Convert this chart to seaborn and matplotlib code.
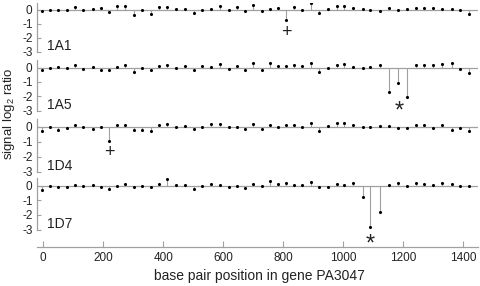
import matplotlib
matplotlib.use("Agg")
import matplotlib.pyplot as plt
import seaborn as sns
import pandas as pd

# ---- data ----
positions = [-6, 22, 50, 78, 106, 133, 164, 191, 218, 247, 273, 302, 329, 358, 384,
             413, 442, 471, 502, 529, 560, 589, 618, 647, 672, 700, 729, 757, 781,
             809, 837, 862, 891, 920, 949, 978, 1003, 1031, 1064, 1090, 1122, 1152,
             1182, 1211, 1242, 1270, 1298, 1330, 1361, 1389, 1418]

sig_1A1 = [-0.05, -0.03, -0.03, -0.03, 0.2, -0.03, 0.08, 0.15, -0.15, 0.28, 0.28, -0.33,
           0.0, -0.3, 0.2, 0.2, 0.1, 0.1, -0.2, -0.03, 0.1, 0.3, 0.0, 0.2,
           -0.07, 0.33, -0.1, 0.07, 0.15, -0.7, 0.25, 0.03, 0.47, -0.2, 0.1, 0.27, 0.27,
           0.17, 0.1, 0.0, -0.05, 0.12, 0.0, 0.1, 0.15, 0.17, 0.17, 0.07, 0.07, 0.02, -0.3]
sig_1A5 = [-0.18, 0.0, 0.02, 0.0, 0.15, -0.07, 0.05, -0.15, -0.18, 0.05, 0.15, -0.3,
           0.0, -0.15, 0.1, 0.15, 0.0, 0.1, -0.15, 0.07, 0.05, 0.27, -0.1, 0.1,
           -0.14, 0.32, -0.14, 0.34, 0.11, 0.11, 0.2, 0.07, 0.3, -0.32, 0.0, 0.14, 0.25,
           0.05, 0.0, 0.05, 0.2, -1.7, -1.11, -2.09, 0.14, 0.14, 0.14, 0.27, 0.32, -0.09, -0.41]
sig_1D4 = [-0.3, -0.04, -0.2, -0.08, 0.1, 0.0, -0.17, -0.04, -0.94, 0.1, 0.1, -0.23,
           -0.23, -0.28, 0.1, 0.17, -0.04, 0.06, -0.19, -0.02, 0.17, 0.19, -0.02, 0.0,
           -0.19, 0.19, -0.17, 0.13, -0.02, 0.13, 0.13, 0.0, 0.23, -0.28, 0.06, 0.23, 0.23,
           0.1, -0.06, 0.0, 0.06, 0.06, -0.09, -0.09, 0.09, 0.09, -0.11, 0.13, -0.21, -0.11, -0.28]
sig_1D7 = [-0.29, 0.0, -0.11, -0.11, 0.04, -0.02, 0.04, -0.07, -0.22, 0.0, 0.07, -0.09,
           -0.04, -0.07, 0.09, 0.47, 0.02, 0.04, -0.24, -0.02, 0.11, 0.04, -0.07, 0.0,
           -0.2, 0.13, -0.02, 0.33, 0.13, 0.16, 0.04, 0.02, 0.24, -0.09, -0.07, 0.09, 0.04,
           0.18, -0.8, -2.84, -1.84, 0.04, 0.2, -0.02, 0.16, 0.09, 0.02, 0.16, 0.09, -0.04, -0.04]

panel_names = ["1A1", "1A5", "1D4", "1D7"]
panel_series = [sig_1A1, sig_1A5, sig_1D4, sig_1D7]
mark_symbols = ["+", "*", "+", "*"]
mark_x = [811, 1185, 220, 1089]
mark_y = [-1.65, -2.74, -1.7, -3.65]

y_ticks = [0, -1, -2, -3]
x_ticks = [0, 200, 400, 600, 800, 1000, 1200, 1400]

# ---- styling ----
sns.set_theme(style="ticks")
plt.rcParams["font.family"] = ["Liberation Sans", "DejaVu Sans"]
plt.rcParams["mathtext.default"] = "regular"

W, H = 481, 286
GRAY = "#a0a0a0"
TXT = "#222222"
fig = plt.figure(figsize=(W / 100, H / 100), dpi=100)

# pixel geometry: (zero line y, -3 tick y, bottom value)
geom = [(10.0, 51.7, -3.0), (67.5, 110.5, -3.0), (126.5, 172.0, -3.0), (185.5, 229.5, -4.17)]
x_left, x_right = 36.7, 478.3
xlim = (-22, 1450)

for k, (name, vals) in enumerate(zip(panel_names, panel_series)):
    zero, m3, bval = geom[k]
    unit = (m3 - zero) / 3.0
    top_px = zero - 0.5 * unit
    bot_px = zero - bval * unit
    ax = fig.add_axes([x_left / W, 1 - bot_px / H, (x_right - x_left) / W, (bot_px - top_px) / H])
    ax.set_xlim(*xlim)
    ax.set_ylim(bval, 0.5)
    ax.patch.set_alpha(0)

    ax.axhline(0, color=GRAY, lw=0.9, zorder=1)
    ax.vlines(positions, 0, vals, color=GRAY, lw=0.8, zorder=2)
    df = pd.DataFrame({"pos": positions, "val": vals})
    sns.scatterplot(data=df, x="pos", y="val", ax=ax, color="black", s=5,
                    linewidth=0, zorder=3, legend=False)
    ax.set_xlabel("")
    ax.set_ylabel("")

    for side in ["top", "right"]:
        ax.spines[side].set_visible(False)
    ax.spines["left"].set_color(GRAY)
    ax.spines["left"].set_linewidth(0.9)
    ax.spines["left"].set_bounds(-3, 0.5)
    ax.set_yticks(y_ticks)
    ax.set_yticklabels([str(t) for t in y_ticks])
    ax.tick_params(axis="y", direction="in", length=3, width=0.8, color=GRAY,
                   labelsize=8.5, labelcolor=TXT, pad=3, left=True)

    if k < 3:
        ax.spines["bottom"].set_visible(False)
        ax.tick_params(axis="x", bottom=False, labelbottom=False)
    else:
        ax.spines["bottom"].set_color(GRAY)
        ax.spines["bottom"].set_linewidth(0.9)
        ax.set_xticks(x_ticks)
        ax.set_xticklabels([str(t) for t in x_ticks])
        ax.tick_params(axis="x", direction="in", length=4, width=0.8, color=GRAY,
                       labelsize=8.5, labelcolor=TXT, pad=4, bottom=True)

    ax.text(12, -2.6, name, fontsize=10, color=TXT, ha="left", va="center")
    if mark_symbols[k] == "+":
        ax.text(mark_x[k], mark_y[k], "+", fontsize=13, color=TXT,
                ha="center", va="center", clip_on=False)
    else:
        ax.text(mark_x[k], mark_y[k] - 0.35, "*", fontsize=17, color=TXT,
                ha="center", va="center", clip_on=False)

fig.text(259 / W, 1 - 280 / H, "base pair position in gene PA3047", fontsize=10,
         color=TXT, ha="center", va="baseline")
fig.text(9 / W, 1 - 114 / H, "signal log$_2$ ratio", fontsize=9.5, color=TXT,
         ha="center", va="center", rotation=90)

fig.savefig("out.png", dpi=100)
